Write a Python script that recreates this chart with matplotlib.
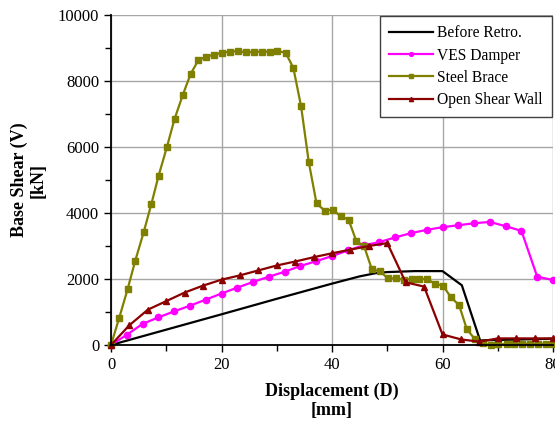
import matplotlib
matplotlib.use('Agg')
from matplotlib import pyplot as plt
from matplotlib.ticker import MultipleLocator

plt.rcParams['font.family'] = ['Liberation Serif', 'DejaVu Serif']

# Before Retro. (plain line)
before_d = [0, 10, 20, 30, 40, 45, 48, 50, 55, 60, 63.5, 66.8, 80]
before_v = [0, 465, 930, 1400, 1860, 2080, 2180, 2210, 2240, 2240, 1810, 140, 190]

# VES Damper
ves_d = [i * 80 / 28 for i in range(29)]
ves_v = [0, 310, 640, 836, 1020, 1190, 1375, 1560, 1740, 1910, 2070, 2220, 2395, 2540,
         2695, 2865, 3020, 3120, 3260, 3390, 3490, 3570, 3630, 3690, 3730, 3600, 3460,
         2070, 1970]

# Steel Brace
brace_d = [0, 1.5, 3.0, 4.4, 5.9, 7.3, 8.6, 10.1, 11.5, 13.0, 14.4, 15.8, 17.2, 18.7,
           20.1, 21.5, 22.9, 24.4, 25.8, 27.3, 28.7, 30.1, 31.6, 33.0, 34.4, 35.8, 37.2,
           38.7, 40.1, 41.6, 43.0, 44.4, 45.8, 47.2, 48.7, 50.1, 51.5, 53.0, 54.4, 55.8,
           57.2, 58.7, 60.1, 61.5, 63.0, 64.4, 65.8, 67.3, 68.7, 70.1, 71.6, 73.0, 74.4,
           75.8, 77.3, 78.7, 80.0]
brace_v = [0, 830, 1690, 2560, 3410, 4270, 5120, 5990, 6850, 7580, 8210, 8630, 8740, 8800,
           8860, 8890, 8910, 8870, 8880, 8890, 8890, 8910, 8860, 8400, 7240, 5540, 4290,
           4070, 4100, 3900, 3800, 3150, 3000, 2300, 2230, 2020, 2020, 1980, 2000, 2000,
           2000, 1850, 1800, 1450, 1210, 480, 190, 50, 0, 30, 20, 30, 40, 40, 30, 40, 30]

# Open Shear Wall
wall_d = [i * 80 / 24 for i in range(25)]
wall_v = [0, 600, 1070, 1330, 1590, 1800, 1980, 2110, 2260, 2410, 2530, 2660, 2780, 2890,
          3000, 3090, 1900, 1770, 320, 170, 100, 200, 200, 200, 200]

fig = plt.figure(figsize=(5.55, 4.23), dpi=100)
ax = fig.add_axes([0.2, 0.1844, 0.7964, 0.78])

ax.plot(before_d, before_v, color='black', lw=1.6, label='Before Retro.', clip_on=False)
ax.plot(ves_d, ves_v, color='#ff00ff', lw=1.6, marker='o', ms=4.5,
        label='VES Damper', clip_on=False)
ax.plot(brace_d, brace_v, color='#808000', lw=1.6, marker='s', ms=4.3,
        label='Steel Brace', clip_on=False)
ax.plot(wall_d, wall_v, color='#8b0000', lw=1.6, marker='^', ms=5,
        label='Open Shear Wall', clip_on=False)

ax.set_xlim(0, 80)
ax.set_ylim(0, 10000)
ax.xaxis.set_major_locator(MultipleLocator(20))
ax.xaxis.set_minor_locator(MultipleLocator(10))
ax.yaxis.set_major_locator(MultipleLocator(2000))
ax.yaxis.set_minor_locator(MultipleLocator(1000))
ax.tick_params(which='both', direction='out', labelsize=12, colors='black')
ax.tick_params(which='major', length=5, width=1)
ax.tick_params(which='minor', length=4, width=1)
ax.grid(which='major', color='#a6a6a6', lw=1)
ax.set_axisbelow(True)

for side in ['top', 'right']:
    ax.spines[side].set_visible(False)
ax.spines['left'].set_linewidth(1.3)
ax.spines['bottom'].set_linewidth(1.3)

ax.set_xlabel('Displacement (D)\n[mm]', fontsize=13, fontweight='bold', labelpad=7,
              linespacing=1.15)
ax.set_ylabel('Base Shear (V)\n[kN]', fontsize=13, fontweight='bold', labelpad=8,
              linespacing=1.15)

leg = ax.legend(loc='upper right', bbox_to_anchor=(0.998, 0.997), borderaxespad=0,
                fontsize=11.2, fancybox=False, framealpha=1, edgecolor='#404040',
                markerscale=0.6, handlelength=2.8, borderpad=0.6, labelspacing=0.4,
                handletextpad=0.3)
leg.get_frame().set_linewidth(1)

fig.savefig('out.png', dpi=100)
